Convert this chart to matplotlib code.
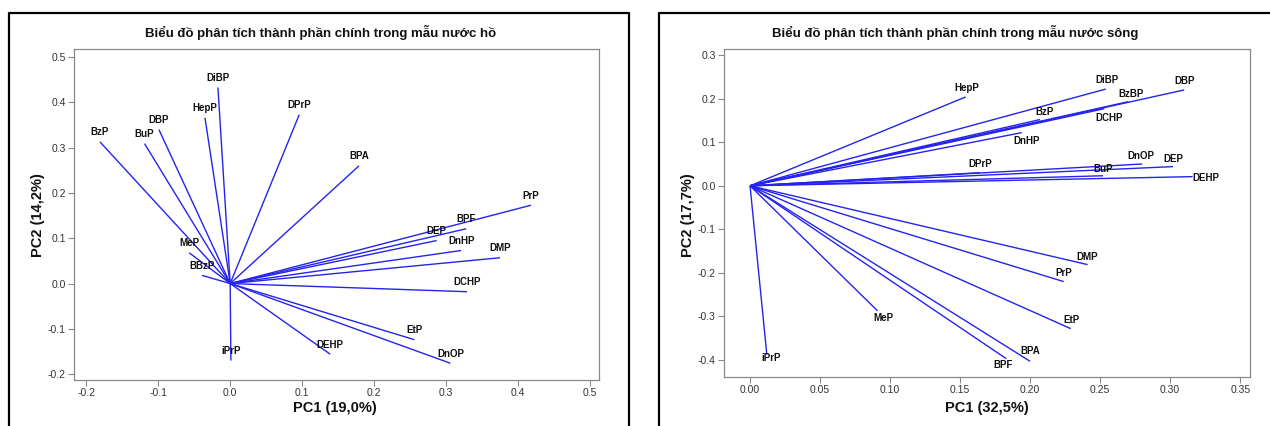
import matplotlib
matplotlib.use("Agg")
import matplotlib.pyplot as plt
from matplotlib.lines import Line2D

plt.rcParams['font.family'] = ['Liberation Sans', 'DejaVu Sans']

# PCA loadings, lake water samples
lake_labels = ["DiBP", "HepP", "DBP", "BuP", "BzP", "DPrP", "BPA", "PrP", "BPF",
               "DEP", "DnHP", "DMP", "DCHP", "MeP", "BBzP", "EtP", "DnOP", "DEHP", "iPrP"]
lake_pc1 = [-0.017, -0.035, -0.099, -0.119, -0.181, 0.096, 0.179, 0.418, 0.328,
            0.287, 0.321, 0.375, 0.329, -0.057, -0.039, 0.256, 0.306, 0.139, 0.001]
lake_pc2 = [0.433, 0.366, 0.340, 0.309, 0.313, 0.373, 0.260, 0.173, 0.121,
            0.095, 0.073, 0.057, -0.018, 0.068, 0.018, -0.124, -0.176, -0.156, -0.170]

# PCA loadings, river water samples
river_labels = ["HepP", "DiBP", "DBP", "BzBP", "DCHP", "BzP", "DnHP", "DnOP", "DEP",
                "BuP", "DPrP", "DEHP", "DMP", "PrP", "EtP", "MeP", "BPA", "BPF", "iPrP"]
river_pc1 = [0.154, 0.254, 0.310, 0.270, 0.253, 0.207, 0.194, 0.280, 0.302,
             0.252, 0.164, 0.316, 0.241, 0.224, 0.229, 0.091, 0.200, 0.183, 0.012]
river_pc2 = [0.204, 0.222, 0.220, 0.193, 0.177, 0.152, 0.122, 0.050, 0.044,
             0.023, 0.030, 0.021, -0.181, -0.220, -0.328, -0.287, -0.403, -0.397, -0.388]

lake_xticks = [-0.2, -0.1, 0.0, 0.1, 0.2, 0.3, 0.4, 0.5]
lake_yticks = [-0.2, -0.1, 0.0, 0.1, 0.2, 0.3, 0.4, 0.5]
river_xticks = [0.00, 0.05, 0.10, 0.15, 0.20, 0.25, 0.30, 0.35]
river_yticks = [-0.4, -0.3, -0.2, -0.1, 0.0, 0.1, 0.2, 0.3]

# label offsets from the arrow tip, in pixels (dx, dy up), plus alignment
river_label_pos = {
    "HepP": (1, 9, "center"), "DiBP": (1, 9, "center"), "DBP": (0, 9, "center"),
    "BzBP": (3, 8, "center"), "DCHP": (5, -9, "center"), "BzP": (5, 8, "center"),
    "DnHP": (5, -8, "center"), "DnOP": (-1, 8, "center"), "DEP": (0, 8, "center"),
    "BuP": (0, 7, "center"), "DPrP": (1, 9, "center"), "DEHP": (0, -1, "left"),
    "DMP": (0, 8, "center"), "PrP": (0, 9, "center"), "EtP": (1, 9, "center"),
    "MeP": (6, -7, "center"), "BPA": (0, 10, "center"), "BPF": (-3, -6, "center"),
    "iPrP": (4, -3, "center"),
}

LINE_COLOR = "#2424ee"
AX_COLOR = "#8a8a8a"
TXT_COLOR = "#333333"
PX = 0.72  # points per pixel at dpi 100

fig = plt.figure(figsize=(12.7, 4.26), dpi=100)
W, H = 1270, 426


def box(x0, y0, x1, y1):
    return [x0 / W, 1 - y1 / H, (x1 - x0) / W, (y1 - y0) / H]


def style_axes(ax, xticks, yticks, xlim, ylim, xfmt, yfmt):
    ax.set_xlim(*xlim)
    ax.set_ylim(*ylim)
    ax.set_xticks(xticks)
    ax.set_yticks(yticks)
    ax.set_xticklabels([xfmt.format(v) for v in xticks])
    ax.set_yticklabels([yfmt.format(v) for v in yticks])
    for s in ax.spines.values():
        s.set_color(AX_COLOR)
        s.set_linewidth(0.9)
    ax.tick_params(direction="out", length=4, width=0.8, color=AX_COLOR,
                   labelsize=7.5, labelcolor=TXT_COLOR, pad=2)


def draw_loadings(ax, labels, pc1, pc2, pos=None):
    for name, x, y in zip(labels, pc1, pc2):
        ax.plot([0, x], [0, y], color=LINE_COLOR, lw=1.0, solid_capstyle="butt")
        dx, dy, ha = (0, 9.5, "center") if pos is None else pos[name]
        ax.annotate(name, (x, y), xytext=(dx * PX, dy * PX), textcoords="offset points",
                    ha=ha, va="center", fontsize=7, fontweight="bold", color="#111111")


# lake panel
ax1 = fig.add_axes(box(74, 49, 599, 380))
draw_loadings(ax1, lake_labels, lake_pc1, lake_pc2)
style_axes(ax1, lake_xticks, lake_yticks, (-0.217, 0.5125), (-0.213, 0.518),
           "{:.1f}", "{:.1f}")

# river panel
ax2 = fig.add_axes(box(724, 49, 1250, 377))
draw_loadings(ax2, river_labels, river_pc1, river_pc2, river_label_pos)
style_axes(ax2, river_xticks, river_yticks, (-0.0186, 0.357), (-0.439, 0.314),
           "{:.2f}", "{:.1f}")

# titles and axis labels
fig.text(321 / W, 1 - 32 / H, "Biểu đồ phân tích thành phần chính trong mẫu nước hồ",
         ha="center", va="center", fontsize=9.5, fontweight="bold", color="#111111")
fig.text(955 / W, 1 - 32 / H, "Biểu đồ phân tích thành phần chính trong mẫu nước sông",
         ha="center", va="center", fontsize=9.5, fontweight="bold", color="#111111")
fig.text(335 / W, 1 - 408 / H, "PC1 (19,0%)", ha="center", va="center",
         fontsize=10.5, fontweight="bold", color="#111111")
fig.text(987 / W, 1 - 408 / H, "PC1 (32,5%)", ha="center", va="center",
         fontsize=10.5, fontweight="bold", color="#111111")
fig.text(38 / W, 1 - 215 / H, "PC2 (14,2%)", ha="center", va="center", rotation=90,
         fontsize=10.5, fontweight="bold", color="#111111")
fig.text(688 / W, 1 - 215 / H, "PC2 (17,7%)", ha="center", va="center", rotation=90,
         fontsize=10.5, fontweight="bold", color="#111111")

# black panel frames
def frame_line(xs, ys):
    fig.add_artist(Line2D([x / W for x in xs], [1 - y / H for y in ys],
                          color="black", lw=1.6, transform=fig.transFigure))

frame_line([8.5, 8.5, 629, 629], [430, 13, 13, 430])
frame_line([659, 659, 1275], [430, 13, 13])

fig.savefig("out.png", dpi=100)
